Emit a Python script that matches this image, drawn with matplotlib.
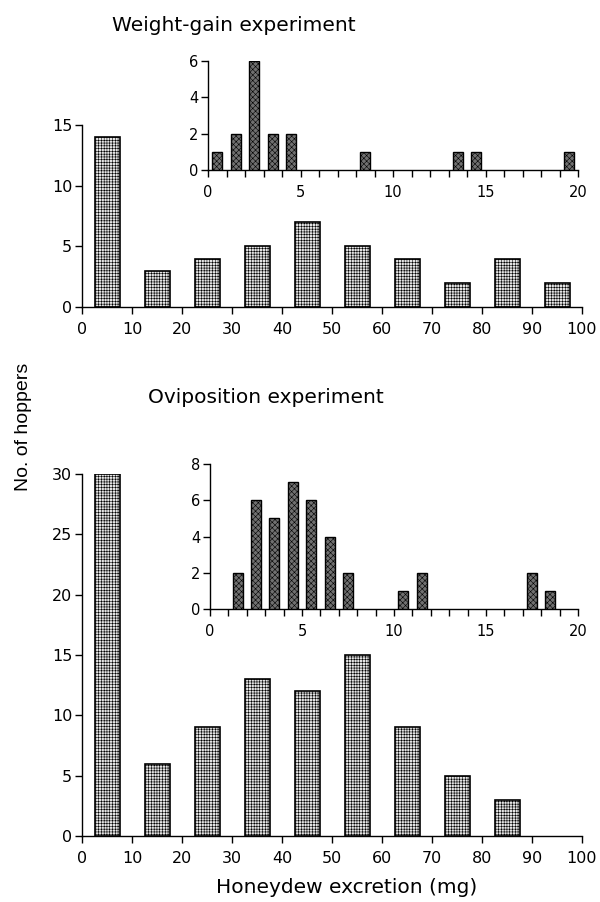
import matplotlib
matplotlib.use("Agg")
import matplotlib.pyplot as plt
import numpy as np

plt.rcParams['font.family'] = ['DejaVu Sans']
plt.rcParams['hatch.linewidth'] = 0.4
plt.rcParams['hatch.color'] = '#9a9a9a'

# ---- data ----
main_bins = [5, 15, 25, 35, 45, 55, 65, 75, 85, 95]
weight_main = [14, 3, 4, 5, 7, 5, 4, 2, 4, 2]
ovip_main = [30, 6, 9, 13, 12, 15, 9, 5, 3, 0]

inset_bins = [0.5, 1.5, 2.5, 3.5, 4.5, 5.5, 6.5, 7.5, 8.5, 9.5,
              10.5, 11.5, 12.5, 13.5, 14.5, 15.5, 16.5, 17.5, 18.5, 19.5]
weight_inset = [1, 2, 6, 2, 2, 0, 0, 0, 1, 0, 0, 0, 0, 1, 1, 0, 0, 0, 0, 1]
ovip_inset = [0, 2, 6, 5, 7, 6, 4, 2, 0, 0, 1, 2, 0, 0, 0, 0, 0, 2, 1, 0]

main_xticks = [0, 10, 20, 30, 40, 50, 60, 70, 80, 90, 100]
inset_xticks = [0, 5, 10, 15, 20]

fig = plt.figure(figsize=(6.0, 9.02), dpi=100)

def style(ax, xlim, ylim, yticks, xticks, minor=None, fs=11):
    ax.set_xlim(*xlim)
    ax.set_ylim(*ylim)
    for s in ['top', 'right']:
        ax.spines[s].set_visible(False)
    for s in ['left', 'bottom']:
        ax.spines[s].set_linewidth(1.0)
    ax.set_yticks(yticks)
    ax.set_xticks(xticks)
    if minor is not None:
        ax.set_xticks(minor, minor=True)
        ax.tick_params(axis='x', which='minor', length=5, width=1.0, direction='out')
    ax.tick_params(axis='both', which='major', length=5, width=1.0,
                   direction='out', labelsize=fs, pad=2)
    ax.tick_params(axis='x', pad=6)
    ax.patch.set_alpha(0)

def nonzero(x, y):
    pairs = [(a, b) for a, b in zip(x, y) if b > 0]
    return [p[0] for p in pairs], [p[1] for p in pairs]

def mainbars(ax, x, y):
    xs, ys = nonzero(x, y)
    ax.bar(xs, ys, width=5, facecolor='#e4e4e4', edgecolor='black',
           linewidth=1.2, hatch='++++++', zorder=3)

def insetbars(ax, x, y):
    xs, ys = nonzero(x, y)
    ax.bar(xs, ys, width=0.55, facecolor='#707070', edgecolor='black',
           linewidth=1.0, hatch='xxxxxx', zorder=3)

# top main
ax1 = fig.add_axes([0.1367, 0.6596, 0.8333, 0.2018])
mainbars(ax1, main_bins, weight_main)
style(ax1, (0, 100), (0, 15), [0, 5, 10, 15], main_xticks, fs=11.5)

# top inset
ax2 = fig.add_axes([0.3467, 0.8115, 0.6167, 0.1208])
insetbars(ax2, inset_bins, weight_inset)
style(ax2, (0, 20), (0, 6), [0, 2, 4, 6], inset_xticks,
      minor=list(range(0, 21)), fs=10.5)

# bottom main
ax3 = fig.add_axes([0.1367, 0.0732, 0.8333, 0.4013])
mainbars(ax3, main_bins, ovip_main)
style(ax3, (0, 100), (0, 30), [0, 5, 10, 15, 20, 25, 30], main_xticks, fs=11.5)
ax3.set_xlabel('Honeydew excretion (mg)', fontsize=14.5)
ax3.xaxis.set_label_coords(0.53, -0.115)

# bottom inset
ax4 = fig.add_axes([0.35, 0.3248, 0.6133, 0.1608])
insetbars(ax4, inset_bins, ovip_inset)
style(ax4, (0, 20), (0, 8), [0, 2, 4, 6, 8], inset_xticks,
      minor=list(range(0, 21)), fs=10.5)

fig.text(0.187, 0.972, 'Weight-gain experiment', fontsize=14.5, va='center', ha='left')
fig.text(0.247, 0.559, 'Oviposition experiment', fontsize=14.5, va='center', ha='left')
fig.text(0.04, 0.527, 'No. of hoppers', fontsize=14, rotation=90, va='center', ha='center',
         family='Liberation Sans')

fig.savefig('out.png', dpi=100)
